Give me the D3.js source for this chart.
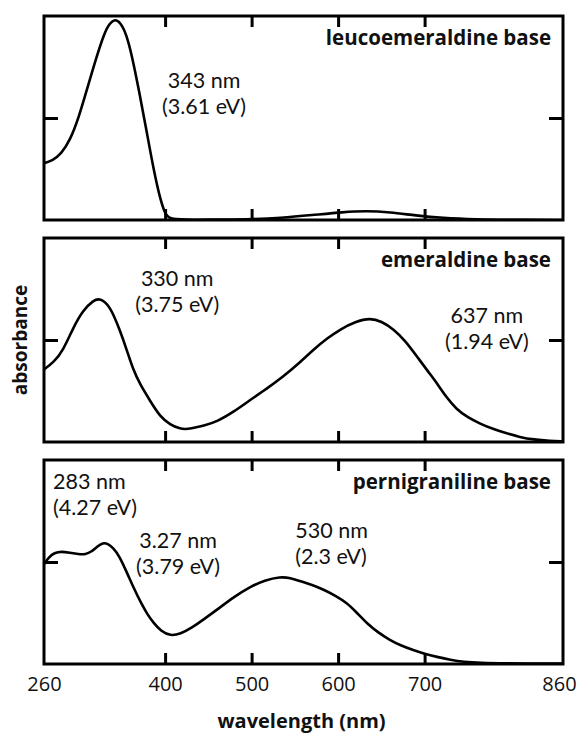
<!DOCTYPE html>
<html>
<head>
<meta charset="utf-8">
<script src="https://cdn.jsdelivr.net/npm/d3@7"></script>
<style>
  html, body { margin: 0; padding: 0; background: #fff; }
  svg { display: block; }
</style>
</head>
<body>
<svg id="chart" width="581" height="734"></svg>
<script>
// ---------- data ----------
const panelNames = ["leucoemeraldine base", "emeraldine base", "pernigraniline base"];

const leucoWavelength = [260, 270, 280, 290, 300, 310, 320, 330, 336, 342, 348, 355, 362, 370, 378, 387, 395, 401, 407, 430, 470, 500, 533, 570, 606, 633, 660, 690, 720, 760, 800, 860];
const leucoAbsorbance = [0.278, 0.292, 0.325, 0.39, 0.50, 0.645, 0.79, 0.92, 0.965, 0.985, 0.97, 0.915, 0.80, 0.63, 0.45, 0.24, 0.09, 0.02, 0.003, 0.001, 0.002, 0.004, 0.01, 0.024, 0.039, 0.045, 0.038, 0.022, 0.01, 0.003, 0.001, 0.0];

const emerWavelength = [260, 271, 282, 294, 305, 317, 325, 336, 348, 356, 363, 371, 383, 394, 406, 417, 423, 429, 445, 460, 480, 499, 517, 535, 556, 572, 588, 603, 620, 637, 650, 664, 678, 691, 705, 714, 725, 737, 750, 764, 780, 795, 810, 826, 845, 860];
const emerAbsorbance = [0.356, 0.39, 0.447, 0.563, 0.645, 0.695, 0.705, 0.67, 0.546, 0.447, 0.356, 0.282, 0.20, 0.125, 0.084, 0.066, 0.063, 0.065, 0.08, 0.10, 0.15, 0.208, 0.26, 0.315, 0.39, 0.455, 0.51, 0.554, 0.59, 0.608, 0.592, 0.554, 0.495, 0.42, 0.34, 0.29, 0.22, 0.16, 0.12, 0.09, 0.062, 0.042, 0.024, 0.012, 0.005, 0.003];

const pernWavelength = [260, 266, 272, 280, 290, 300, 308, 315, 322, 328, 333, 340, 347, 356, 364, 372, 380, 387, 395, 406, 418, 430, 445, 460, 480, 499, 515, 533, 545, 556, 570, 583, 597, 610, 622, 633, 646, 660, 673, 687, 700, 714, 730, 745, 765, 790, 860];
const pernAbsorbance = [0.489, 0.525, 0.545, 0.552, 0.545, 0.538, 0.537, 0.55, 0.578, 0.594, 0.592, 0.57, 0.53, 0.447, 0.37, 0.30, 0.24, 0.20, 0.162, 0.137, 0.148, 0.175, 0.22, 0.266, 0.33, 0.38, 0.41, 0.428, 0.422, 0.406, 0.388, 0.365, 0.335, 0.30, 0.25, 0.20, 0.155, 0.117, 0.09, 0.068, 0.05, 0.035, 0.02, 0.01, 0.005, 0.003, 0.002];

const xTickValues = [400, 500, 600, 700];
const xTickLabels = [260, 400, 500, 600, 700, 860];
const yTickValues = [0.5];

// annotation texts (anchor in data units: wavelength, absorbance)
const leucoNotes = [{lines: ["343 nm", "(3.61 eV)"], nm: 445, a: 0.647, anchor: "middle"}];
const emerNotes = [
  {lines: ["330 nm", "(3.75 eV)"], nm: 414, a: 0.763, anchor: "middle"},
  {lines: ["637 nm", "(1.94 eV)"], nm: 772, a: 0.583, anchor: "middle"}
];
const pernNotes = [
  {lines: ["283 nm", "(4.27 eV)"], nm: 270.5, a: 0.856, anchor: "start"},
  {lines: ["3.27 nm", "(3.79 eV)"], nm: 415, a: 0.567, anchor: "middle"},
  {lines: ["530 nm", "(2.3 eV)"], nm: 550.5, a: 0.616, anchor: "start"}
];

const panels = [
  {name: panelNames[0], wl: leucoWavelength, ab: leucoAbsorbance, notes: leucoNotes},
  {name: panelNames[1], wl: emerWavelength, ab: emerAbsorbance, notes: emerNotes},
  {name: panelNames[2], wl: pernWavelength, ab: pernAbsorbance, notes: pernNotes}
];

// ---------- layout ----------
const left = 44, right = 563, top0 = 16, panelH = 204, gap = 18;
const svg = d3.select("#chart");
const x = d3.scaleLinear().domain([260, 860]).range([left, right]);
const ink = "#000";
const textInk = "#111";

panels.forEach((p, i) => {
  const top = top0 + i * (panelH + gap);
  const bottom = top + panelH;
  const y = d3.scaleLinear().domain([0, 1]).range([bottom, top]);
  const g = svg.append("g");

  const clipId = "clip" + i;
  svg.append("clipPath").attr("id", clipId)
    .append("rect").attr("x", left).attr("y", top).attr("width", right - left).attr("height", panelH);

  // curve
  const pts = p.wl.map((w, k) => [w, p.ab[k]]);
  const line = d3.line().x(d => x(d[0])).y(d => y(d[1])).curve(d3.curveBasis);
  g.append("path").datum(pts)
    .attr("d", line)
    .attr("clip-path", `url(#${clipId})`)
    .attr("fill", "none").attr("stroke", ink).attr("stroke-width", 2.6)
    .attr("stroke-linejoin", "round").attr("stroke-linecap", "round");

  // ticks via axes (inward)
  const axB = d3.axisBottom(x).tickValues(xTickValues).tickSizeInner(-11).tickSizeOuter(0).tickFormat("");
  const axT = d3.axisTop(x).tickValues(xTickValues).tickSizeInner(-11).tickSizeOuter(0).tickFormat("");
  const axL = d3.axisLeft(y).tickValues(yTickValues).tickSizeInner(-14).tickSizeOuter(0).tickFormat("");
  const axR = d3.axisRight(y).tickValues(yTickValues).tickSizeInner(-14).tickSizeOuter(0).tickFormat("");
  [[axB, `translate(0,${bottom})`], [axT, `translate(0,${top})`], [axL, `translate(${left},0)`], [axR, `translate(${right},0)`]]
    .forEach(([ax, tr]) => {
      const a = g.append("g").attr("transform", tr).call(ax);
      a.select(".domain").remove();
      a.selectAll(".tick line").attr("stroke", ink).attr("stroke-width", 3);
    });

  // frame
  g.append("rect").attr("x", left).attr("y", top).attr("width", right - left).attr("height", panelH)
    .attr("fill", "none").attr("stroke", ink).attr("stroke-width", 3);

  // panel title
  g.append("text").attr("x", right - 12).attr("y", top + 29)
    .attr("text-anchor", "end")
    .attr("font-family", "'Open Sans', sans-serif").attr("font-weight", "bold").attr("font-size", 20.5)
    .attr("fill", textInk).text(p.name);

  // annotations
  p.notes.forEach(n => {
    const t = g.append("text")
      .attr("x", x(n.nm)).attr("y", y(n.a))
      .attr("text-anchor", n.anchor)
      .attr("font-family", "Lato, sans-serif").attr("font-size", 21.5)
      .attr("fill", textInk);
    n.lines.forEach((s, k) => {
      t.append("tspan").attr("x", x(n.nm)).attr("dy", k === 0 ? 0 : 26).text(s);
    });
  });

  if (i === panels.length - 1) {
    const axLab = d3.axisBottom(x).tickValues(xTickLabels).tickSize(0).tickPadding(13).tickFormat(d3.format("d"));
    const a = svg.append("g").attr("transform", `translate(0,${bottom})`).call(axLab);
    a.select(".domain").remove();
    a.selectAll(".tick text")
      .attr("font-family", "'Open Sans', sans-serif").attr("font-size", 20).attr("fill", textInk);
    a.selectAll(".tick text").filter(d => d === 860).attr("dx", -4);

    svg.append("text").attr("x", (left + right) / 2 - 2).attr("y", 728)
      .attr("text-anchor", "middle")
      .attr("font-family", "'Open Sans', sans-serif").attr("font-weight", "bold").attr("font-size", 20)
      .attr("fill", textInk).text("wavelength (nm)");
  }
});

// y-axis label
const midY = top0 + panelH + gap + panelH / 2;
svg.append("text")
  .attr("transform", `translate(27,${midY}) rotate(-90)`)
  .attr("text-anchor", "middle")
  .attr("font-family", "'Open Sans', sans-serif").attr("font-weight", "bold").attr("font-size", 19)
  .attr("fill", textInk).text("absorbance");
</script>
</body>
</html>
